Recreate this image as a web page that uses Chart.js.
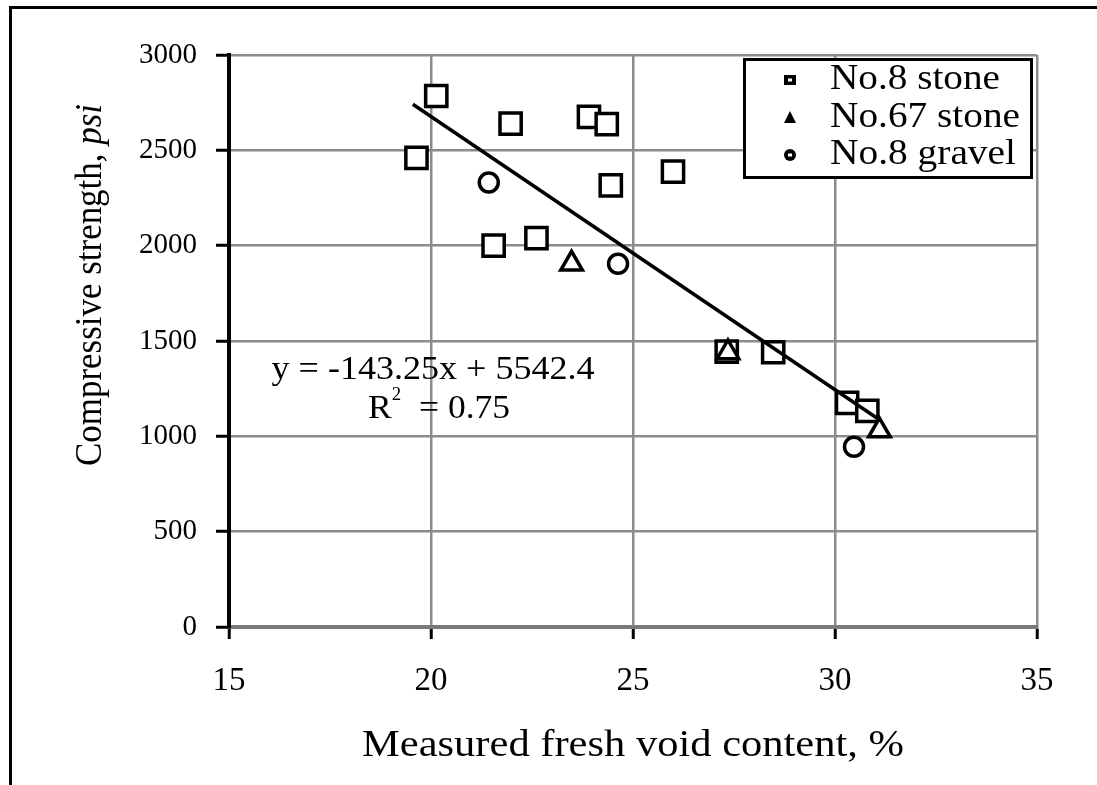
<!DOCTYPE html>
<html lang="en">
<head>
<meta charset="UTF-8" />
<title>Compressive strength vs. void content</title>
<script src="https://cdn.jsdelivr.net/npm/chart.js"></script>
<style>
  html, body { margin: 0; padding: 0; background: #fff; }
  #wrap { width: 1097px; height: 785px; position: relative; }
</style>
</head>
<body>
<div id="wrap"><canvas id="voidChart"></canvas></div>
<script>
// No.8 stone
const stone8X = [20.13, 19.64, 21.97, 23.91, 24.35, 24.45, 25.99, 21.55, 22.61, 27.32, 28.47, 30.3, 30.8];
const stone8Y = [2785, 2460, 2640, 2676, 2638, 2316, 2388, 2000, 2040, 1444, 1441, 1175, 1133];
// No.67 stone
const stone67X = [23.48, 27.35, 31.1];
const stone67Y = [1905, 1440, 1030];
// No.8 gravel
const gravel8X = [21.43, 24.63, 30.47];
const gravel8Y = [2331, 1905, 945];

// linear trend over all points
const slope = -143.25;
const intercept = 5542.4;
const trendX = [19.55, 31.1];

const xTicks = [15, 20, 25, 30, 35];
const yTicks = [0, 500, 1000, 1500, 2000, 2500, 3000];
const seriesNames = ["No.8 stone", "No.67 stone", "No.8 gravel"];

const pts = (xs, ys) => xs.map((x, i) => ({ x: x, y: ys[i] }));
const SERIF = "'Liberation Serif', 'Times New Roman', serif";

// draws a run of text parts centred on (cx, cy), squeezed/stretched to a width
function drawFitted(ctx, parts, cx, cy, width, rotate) {
  ctx.save();
  ctx.translate(cx, cy);
  if (rotate) ctx.rotate(-Math.PI / 2);
  let total = 0;
  parts.forEach((p) => {
    ctx.font = p.font;
    p.w = ctx.measureText(p.text).width;
    total += p.w;
  });
  ctx.scale(width / total, 1);
  ctx.textBaseline = "middle";
  ctx.textAlign = "left";
  ctx.fillStyle = "#000";
  let x = -total / 2;
  parts.forEach((p) => {
    ctx.font = p.font;
    ctx.fillText(p.text, x, p.dy || 0);
    x += p.w;
  });
  ctx.restore();
}

const decor = {
  id: "decor",
  afterDraw(chart) {
    const ctx = chart.ctx;
    const xs = chart.scales.x, ys = chart.scales.y;
    ctx.save();
    // outer frame (top and left)
    ctx.strokeStyle = "#000";
    ctx.lineWidth = 3;
    ctx.beginPath();
    ctx.moveTo(10.5, 785);
    ctx.lineTo(10.5, 7.5);
    ctx.lineTo(1097, 7.5);
    ctx.stroke();

    // axis titles
    const f = (s, it) => (it ? "italic " : "") + s + "px " + SERIF;
    drawFitted(ctx, [{ text: "Measured fresh void content, %", font: f(38) }], 633, 746, 542, false);
    drawFitted(ctx, [
      { text: "Compressive strength, ", font: f(38) },
      { text: "psi", font: f(38, true) }
    ], 91, 285, 362, true);

    // trend equation
    drawFitted(ctx, [{ text: "y = -143.25x + 5542.4", font: f(34) }],
      xs.getPixelForValue(20.05), ys.getPixelForValue(1348), 323, false);
    drawFitted(ctx, [
      { text: "R", font: f(34) },
      { text: "2", font: f(18), dy: -14 },
      { text: "  = 0.75", font: f(34) }
    ], xs.getPixelForValue(20.2), ys.getPixelForValue(1143), 142, false);

    // legend
    ctx.fillStyle = "#fff";
    ctx.fillRect(744, 59, 287, 118);
    ctx.strokeStyle = "#000";
    ctx.lineWidth = 3;
    ctx.strokeRect(744.5, 59.5, 287, 118);
    const rowsY = [80, 118, 155];
    const mx = 790;
    rowsY.forEach((y, i) => {
      ctx.fillStyle = "#000";
      ctx.beginPath();
      if (i === 0) ctx.rect(mx - 6, y - 5, 12, 10);
      else if (i === 1) { ctx.moveTo(mx, y - 7); ctx.lineTo(mx + 6, y + 5); ctx.lineTo(mx - 6, y + 5); ctx.closePath(); }
      else ctx.arc(mx, y, 6, 0, Math.PI * 2);
      ctx.fill();
      if (i !== 1) {
        ctx.fillStyle = "#fff";
        ctx.fillRect(mx - 2, y - 1.5, 4, 3);
      }
    });
    const widths = [170, 190, 186];
    seriesNames.forEach((name, i) => {
      drawFitted(ctx, [{ text: name, font: f(36) }], 830 + widths[i] / 2, rowsY[i], widths[i], false);
    });
    ctx.restore();
  }
};

const markerBase = {
  pointBackgroundColor: "#fff",
  pointBorderColor: "#000",
  pointBorderWidth: 3.5,
  showLine: false
};

new Chart(document.getElementById("voidChart"), {
  type: "scatter",
  data: {
    datasets: [
      {
        label: "trend",
        data: trendX.map((x) => ({ x: x, y: slope * x + intercept })),
        showLine: true,
        borderColor: "#000",
        borderWidth: 3.5,
        pointRadius: 0,
        order: 0
      },
      Object.assign({ label: seriesNames[2], data: pts(gravel8X, gravel8Y), pointStyle: "circle", pointRadius: 9.5, order: 1 }, markerBase),
      Object.assign({ label: seriesNames[1], data: pts(stone67X, stone67Y), pointStyle: "triangle", pointRadius: 12.5, order: 2 }, markerBase),
      Object.assign({ label: seriesNames[0], data: pts(stone8X, stone8Y), pointStyle: "rect", pointRadius: 15, order: 3 }, markerBase)
    ]
  },
  options: {
    responsive: true,
    maintainAspectRatio: false,
    animation: false,
    layout: { padding: { top: 55, right: 60, left: 0, bottom: 0 } },
    plugins: { legend: { display: false }, tooltip: { enabled: false } },
    scales: {
      x: {
        type: "linear",
        min: xTicks[0],
        max: xTicks[xTicks.length - 1],
        afterFit: (s) => { s.height = 158; },
        ticks: {
          stepSize: xTicks[1] - xTicks[0],
          color: "#000",
          padding: 23,
          font: { family: SERIF, size: 33 },
          callback: (v) => String(v)
        },
        grid: { color: "#8c8c8c", lineWidth: 2.5, tickColor: "#000", tickLength: 12, tickWidth: 3 },
        border: { color: "#7a7a7a", width: 4 }
      },
      y: {
        type: "linear",
        min: yTicks[0],
        max: yTicks[yTicks.length - 1],
        afterFit: (s) => { s.width = 229; },
        ticks: {
          stepSize: yTicks[1] - yTicks[0],
          color: "#000",
          padding: 19,
          font: { family: SERIF, size: 29 },
          callback: (v) => String(v)
        },
        grid: { color: "#8c8c8c", lineWidth: 2.5, tickColor: "#000", tickLength: 13, tickWidth: 3 },
        border: { color: "#000", width: 4 }
      }
    }
  },
  plugins: [decor]
});
</script>
</body>
</html>
